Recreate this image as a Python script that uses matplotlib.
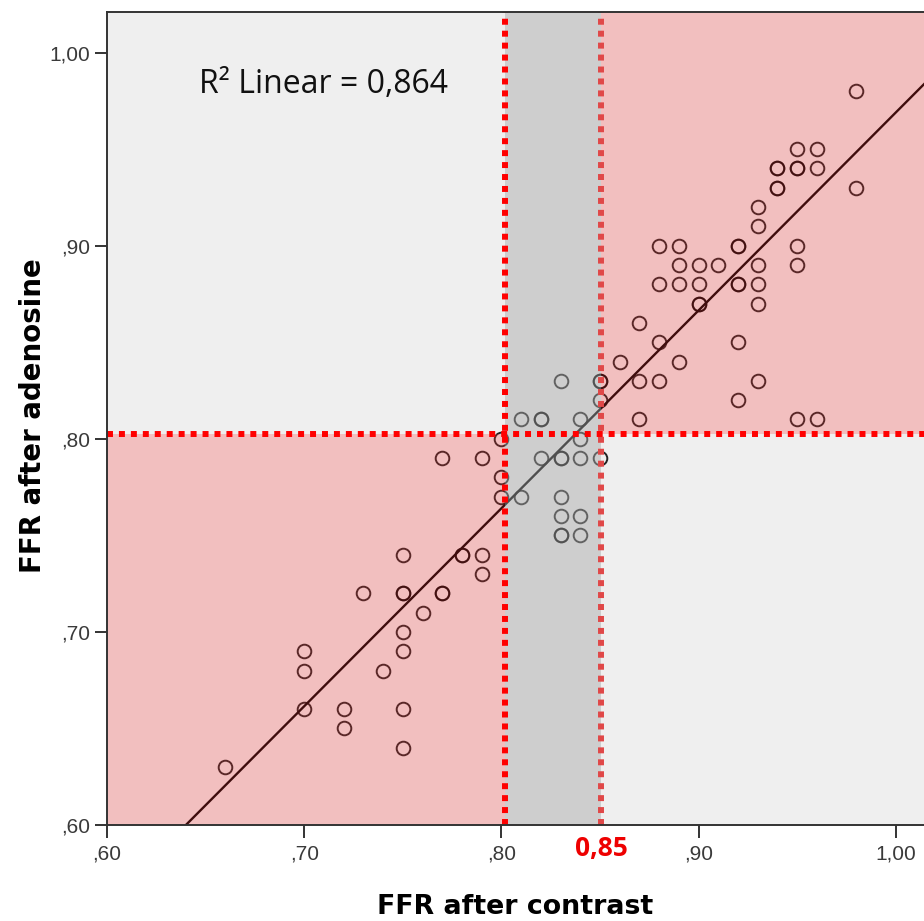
import numpy as np
import matplotlib
matplotlib.use("Agg")
import matplotlib.pyplot as plt

# ---- data ----
ffr_contrast = [
    0.66,
    0.70, 0.70, 0.70,
    0.72, 0.72,
    0.73,
    0.74,
    0.75, 0.75, 0.75, 0.75, 0.75, 0.75, 0.75,
    0.76,
    0.77, 0.77, 0.77,
    0.78, 0.78,
    0.79, 0.79, 0.79,
    0.80, 0.80, 0.80,
    0.81, 0.81,
    0.82, 0.82, 0.82,
    0.83, 0.83, 0.83, 0.83, 0.83, 0.83, 0.83,
    0.84, 0.84, 0.84, 0.84, 0.84,
    0.85, 0.85, 0.85, 0.85,
    0.86,
    0.87, 0.87, 0.87,
    0.88, 0.88, 0.88, 0.88,
    0.89, 0.89, 0.89, 0.89,
    0.90, 0.90, 0.90, 0.90,
    0.91,
    0.92, 0.92, 0.92, 0.92, 0.92, 0.92,
    0.93, 0.93, 0.93, 0.93, 0.93, 0.93,
    0.94, 0.94, 0.94, 0.94,
    0.95, 0.95, 0.95, 0.95, 0.95, 0.95,
    0.96, 0.96, 0.96,
    0.98, 0.98,
]
ffr_adenosine = [
    0.63,
    0.69, 0.68, 0.66,
    0.66, 0.65,
    0.72,
    0.68,
    0.74, 0.72, 0.72, 0.70, 0.69, 0.66, 0.64,
    0.71,
    0.72, 0.72, 0.79,
    0.74, 0.74,
    0.74, 0.73, 0.79,
    0.80, 0.78, 0.77,
    0.81, 0.77,
    0.81, 0.81, 0.79,
    0.83, 0.79, 0.79, 0.77, 0.76, 0.75, 0.75,
    0.81, 0.80, 0.79, 0.76, 0.75,
    0.83, 0.83, 0.82, 0.79,
    0.84,
    0.86, 0.83, 0.81,
    0.90, 0.88, 0.85, 0.83,
    0.90, 0.89, 0.88, 0.84,
    0.89, 0.88, 0.87, 0.87,
    0.89,
    0.90, 0.90, 0.88, 0.88, 0.85, 0.82,
    0.92, 0.91, 0.89, 0.88, 0.87, 0.83,
    0.94, 0.94, 0.93, 0.93,
    0.95, 0.94, 0.94, 0.90, 0.89, 0.81,
    0.95, 0.94, 0.81,
    0.98, 0.93,
]
fit_slope = 1.025        # linear fit line as drawn in the reference
fit_intercept = -0.056
x_ticks = [0.60, 0.70, 0.80, 0.90, 1.00]
x_tick_labels = [",60", ",70", ",80", ",90", "1,00"]
y_ticks = [0.60, 0.70, 0.80, 0.90, 1.00]
y_tick_labels = [",60", ",70", ",80", ",90", "1,00"]
cut_contrast_low = 0.8018
cut_contrast_high = 0.8505
cut_adenosine = 0.8025
r2_text = "R\u00b2 Linear = 0,864"
cut_label = "0,85"
x_label = "FFR after contrast"
y_label = "FFR after adenosine"

x = np.array(ffr_contrast)
y = np.array(ffr_adenosine)

fig = plt.figure(figsize=(9.24, 9.21), dpi=100)
ax = fig.add_axes([107/924, 96/921, 817/924, 813/921])
xmin, xmax = 0.60, 0.60 + 817/1972
ymin, ymax = 0.60, 0.60 + 813/1931
ax.set_xlim(xmin, xmax)
ax.set_ylim(ymin, ymax)
ax.set_facecolor('white')

# points and fit line (under translucent overlays)
ax.plot(x, y, 'o', ms=9.8, mfc='none', mec='black', mew=1.4, alpha=0.85, zorder=2)
xx = np.array([xmin, xmax])
ax.plot(xx, fit_slope*xx + fit_intercept, color='black', lw=1.7, zorder=2)

# region overlays
pink = (212/255, 45/255, 45/255)
a_p = 0.30
ax.add_patch(plt.Rectangle((xmin, ymin), cut_contrast_low - xmin, cut_adenosine - ymin,
                           color=pink, alpha=a_p, lw=0, zorder=3))
ax.add_patch(plt.Rectangle((cut_contrast_high, cut_adenosine), xmax - cut_contrast_high,
                           ymax - cut_adenosine, color=pink, alpha=a_p, lw=0, zorder=3))
ax.add_patch(plt.Rectangle((cut_contrast_low, ymin), cut_contrast_high - cut_contrast_low,
                           ymax - ymin, color=(0.624, 0.624, 0.624), alpha=0.5, lw=0, zorder=3))
ax.add_patch(plt.Rectangle((xmin, cut_adenosine), cut_contrast_low - xmin, ymax - cut_adenosine,
                           color='#efefef', lw=0, zorder=1))
ax.add_patch(plt.Rectangle((cut_contrast_high, ymin), xmax - cut_contrast_high, cut_adenosine - ymin,
                           color='#efefef', lw=0, zorder=1))

# dashed red cut lines
ax.axvline(cut_contrast_low, color='#ff0000', lw=4.3, linestyle=(0, (1.0, 1.0)), zorder=4)
ax.axvline(cut_contrast_high, color='#e04848', lw=4.3, linestyle=(0, (1.0, 1.0)), zorder=4)
ax.axhline(cut_adenosine, color='#ff0000', lw=4.3, linestyle=(0, (1.0, 1.0)), zorder=4)

# spines / ticks
for s in ['left', 'bottom', 'top']:
    ax.spines[s].set_color('#333333')
    ax.spines[s].set_linewidth(1.4)
    ax.spines[s].set_zorder(5)
ax.spines['right'].set_visible(False)
ax.set_xticks(x_ticks)
ax.set_xticklabels(x_tick_labels)
ax.set_yticks(y_ticks)
ax.set_yticklabels(y_tick_labels)
ax.tick_params(direction='out', length=9, width=1.4, color='#333333',
               labelsize=15, labelcolor='#3a3a3a')
for lab in ax.get_xticklabels() + ax.get_yticklabels():
    lab.set_family('Liberation Sans')
ax.tick_params(axis='x', pad=5)
ax.tick_params(axis='y', pad=3)

# annotations
ax.text(0.6465, 0.9792, r2_text, fontsize=23, family='Open Sans', color='#111111',
        va='baseline', ha='left', zorder=6)
ax.text(cut_contrast_high, ymin - 23/1931, cut_label, fontsize=19, fontweight='bold',
        family='Open Sans', color='#ee0000', ha='center', va='center')

fig.text(515/924, 1 - 907/921, x_label, fontsize=19.3, fontweight='bold',
         family='DejaVu Sans', ha='center', va='center')
fig.text(33/924, 1 - 416/921, y_label, fontsize=19.9, fontweight='bold',
         family='DejaVu Sans', ha='center', va='center', rotation=90)

fig.savefig('out.png', dpi=100)
